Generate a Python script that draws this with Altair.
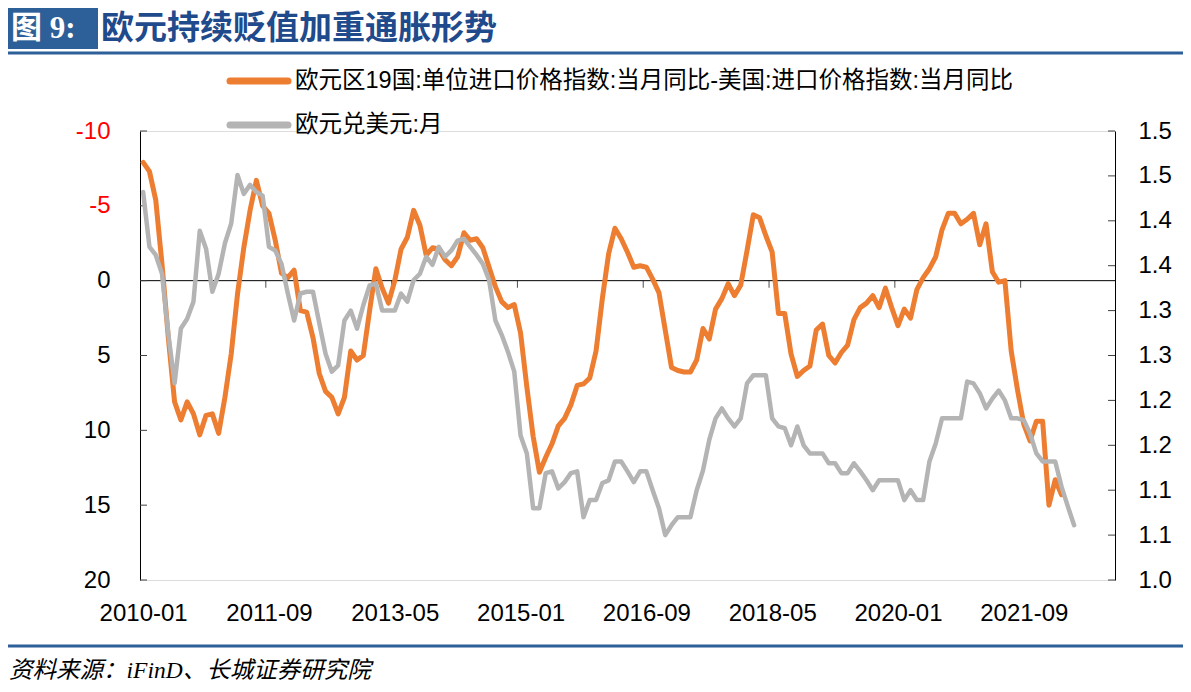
import altair as alt
import pandas as pd

# ---------------- data ----------------
months = pd.date_range("2010-01-01", periods=155, freq="MS").strftime("%Y-%m").tolist()

# 欧元区19国单位进口价格指数同比 - 美国进口价格指数同比 (left axis, reversed)
import_gap = [
    -7.9, -7.3, -5.4, -1.1, 3.8, 8.1, 9.3, 8.1, 8.9, 10.3,
    9.0, 8.9, 10.2, 7.8, 4.9, 0.9, -2.2, -4.7, -6.7, -5.0,
    -4.5, -2.7, -0.5, -0.2, -0.7, 2.0, 2.1, 3.8, 6.2, 7.4,
    7.8, 8.9, 7.8, 4.7, 5.3, 5.0, 2.0, -0.8, 0.5, 1.5,
    0.0, -2.1, -2.9, -4.7, -3.7, -1.7, -2.2, -2.1, -1.4, -1.0,
    -1.6, -3.2, -2.7, -2.8, -2.2, -0.9, 0.4, 1.4, 1.8, 1.6,
    3.5, 7.1, 10.4, 12.8, 11.8, 10.9, 9.7, 9.2, 8.3, 7.0,
    6.9, 6.5, 4.7, 1.2, -1.8, -3.5, -2.8, -1.9, -0.9, -1.0,
    -0.9, -0.1, 0.8, 3.3, 5.8, 6.0, 6.1, 6.1, 5.3, 3.2,
    3.9, 1.9, 1.2, 0.2, 1.0, 0.3, -2.0, -4.4, -4.2, -3.0,
    -1.9, 2.2, 2.2, 4.9, 6.4, 6.0, 5.7, 3.3, 2.9, 5.0,
    5.5, 4.8, 4.3, 2.6, 1.8, 1.5, 1.0, 1.8, 0.5, 1.8,
    3.0, 1.9, 2.5, 0.6, -0.2, -0.8, -1.6, -3.4, -4.5, -4.5,
    -3.8, -4.1, -4.5, -2.4, -3.8, -0.6, 0.1, 0.0, 4.7, 7.3,
    9.6, 10.7, 9.4, 9.4, 15.0, 13.3, 14.3,
]

# 欧元兑美元:月 (right axis)
eurusd = [
    1.432, 1.371, 1.362, 1.341, 1.274, 1.219, 1.280, 1.291, 1.310, 1.389,
    1.369, 1.321, 1.341, 1.375, 1.397, 1.451, 1.430, 1.440, 1.432, 1.428,
    1.371, 1.367, 1.352, 1.319, 1.289, 1.319, 1.321, 1.321, 1.286, 1.252,
    1.232, 1.239, 1.289, 1.300, 1.280, 1.306, 1.328, 1.330, 1.300, 1.300,
    1.300, 1.319, 1.310, 1.334, 1.341, 1.360, 1.351, 1.371, 1.360, 1.367,
    1.378, 1.380, 1.371, 1.362, 1.352, 1.334, 1.289, 1.273, 1.254, 1.232,
    1.161, 1.141, 1.080, 1.080, 1.119, 1.121, 1.102, 1.109, 1.119, 1.121,
    1.070, 1.089, 1.089, 1.108, 1.111, 1.132, 1.132, 1.121, 1.109, 1.121,
    1.121, 1.100, 1.080, 1.050, 1.061, 1.070, 1.070, 1.070, 1.100, 1.122,
    1.156, 1.180, 1.191, 1.180, 1.171, 1.180, 1.219, 1.228, 1.228, 1.228,
    1.180, 1.171, 1.169, 1.150, 1.171, 1.150, 1.141, 1.141, 1.141, 1.130,
    1.130, 1.119, 1.119, 1.130, 1.121, 1.111, 1.100, 1.111, 1.111, 1.111,
    1.111, 1.089, 1.100, 1.089, 1.089, 1.132, 1.152, 1.180, 1.180, 1.180,
    1.180, 1.221, 1.219, 1.208, 1.191, 1.202, 1.211, 1.200, 1.180, 1.180,
    1.178, 1.163, 1.141, 1.132, 1.132, 1.132, 1.104, 1.082, 1.061,
]

left_ticks = [-10, -5, 0, 5, 10, 15, 20]
right_ticks = [1.0, 1.05, 1.1, 1.15, 1.2, 1.25, 1.3, 1.35, 1.4, 1.45, 1.5]
x_label_idx = [0, 20, 40, 60, 80, 100, 120, 140]
x_bound_idx = [19.5, 39.5, 59.5, 79.5, 99.5, 119.5, 139.5]

series_names = [
    "欧元区19国:单位进口价格指数:当月同比-美国:进口价格指数:当月同比",
    "欧元兑美元:月",
]
series_colors = ["#ED7D31", "#B4B4B4"]

title_tag = "图 9:"
title_text = "欧元持续贬值加重通胀形势"
source_text = "资料来源：iFinD、长城证券研究院"

# ---------------- frames ----------------
df_o = pd.DataFrame({"i": list(range(len(import_gap))), "month": months[:len(import_gap)], "v": import_gap})
df_g = pd.DataFrame({"i": list(range(len(eurusd))), "month": months[:len(eurusd)], "v": eurusd})
df_lt = pd.DataFrame({"t": left_ticks})
df_rt = pd.DataFrame({"t": right_ticks})
df_zero = pd.DataFrame({"z": [0]})
df_bound = pd.DataFrame({"b": x_bound_idx, "z": [0] * len(x_bound_idx)})
one = pd.DataFrame({"a": [0]})

W, H = 975, 449
BLUE = "#2D5F99"
LABEL_FONT = "Liberation Sans"
CJK = "Liberation Sans, Noto Sans CJK SC"

xscale = alt.Scale(domain=[-0.5, 154.5], nice=False, zero=False)
xaxis = alt.Axis(
    values=x_label_idx,
    labelExpr="toString(2010 + floor(datum.value / 12)) + '-' + (datum.value % 12 < 9 ? '0' : '') + toString(datum.value % 12 + 1)",
    title=None, domain=False, ticks=False, grid=False,
    labelFont=LABEL_FONT, labelFontSize=24, labelColor="#000000",
    labelPadding=21, labelAngle=0, labelOverlap=False, labelFlush=False,
)
X = alt.X("i:Q", scale=xscale, axis=xaxis)

yl_scale = alt.Scale(domain=[-10, 20], reverse=True, nice=False, zero=False)
yl_axis = alt.Axis(
    orient="left", values=left_ticks, title=None, grid=False, ticks=False,
    domain=True, domainColor="#000000", domainWidth=1,
    labelFont=LABEL_FONT, labelFontSize=24, labelPadding=30,
    labelExpr="toString(datum.value)",
    labelColor={"expr": "datum.value < 0 ? '#FF0000' : '#000000'"},
    labelOverlap=False, labelFlush=False,
)
yr_scale = alt.Scale(domain=[1.0, 1.5], nice=False, zero=False)
yr_axis = alt.Axis(
    orient="right", values=right_ticks, title=None, grid=False, ticks=False,
    domain=True, domainColor="#000000", domainWidth=1,
    labelFont=LABEL_FONT, labelFontSize=24, labelPadding=23, labelColor="#000000",
    labelExpr="format(datum.value + 0.000001, '.1f')",
    labelOverlap=False, labelFlush=False,
)

# ---------------- left group ----------------
zero_line = alt.Chart(df_zero).mark_rule(color="#000000", strokeWidth=1).encode(
    y=alt.Y("z:Q", scale=yl_scale, axis=yl_axis)
)
zero_ticks = alt.Chart(df_bound).mark_tick(
    orient="vertical", size=7, thickness=1, yOffset=3.5, color="#000000"
).encode(
    x=alt.X("b:Q", scale=xscale, axis=xaxis),
    y=alt.Y("z:Q", scale=yl_scale, axis=yl_axis),
)
left_tick_marks = alt.Chart(df_lt).mark_rule(color="#404040", strokeWidth=1).encode(
    x=alt.value(0), x2=alt.value(7),
    y=alt.Y("t:Q", scale=yl_scale, axis=yl_axis),
)
orange = alt.Chart(df_o).mark_line(
    color=series_colors[0], strokeWidth=5, strokeJoin="round", strokeCap="round"
).encode(
    x=X,
    y=alt.Y("v:Q", scale=yl_scale, axis=yl_axis),
    tooltip=["month:N", "v:Q"],
)
left_group = alt.layer(zero_line, zero_ticks, left_tick_marks, orange)

# ---------------- right group ----------------
right_tick_marks = alt.Chart(df_rt).mark_rule(color="#404040", strokeWidth=1).encode(
    x=alt.value(W - 7), x2=alt.value(W),
    y=alt.Y("t:Q", scale=yr_scale, axis=yr_axis),
)
gray = alt.Chart(df_g).mark_line(
    color=series_colors[1], strokeWidth=4.5, strokeJoin="round", strokeCap="round"
).encode(
    x=X,
    y=alt.Y("v:Q", scale=yr_scale, axis=yr_axis),
    tooltip=["month:N", "v:Q"],
)
right_group = alt.layer(right_tick_marks, gray)

# ---------------- decorations: title, rules, legend, source ----------------
deco = []
deco.append(alt.Chart(one).mark_rect(color=BLUE).encode(
    x=alt.value(-132), x2=alt.value(-42), y=alt.value(-123), y2=alt.value(-82)))
deco.append(alt.Chart(one).mark_text(
    text=title_tag, color="#FFFFFF", font="Liberation Serif, Noto Sans CJK SC",
    fontSize=31, fontWeight="bold", align="left", baseline="middle").encode(
    x=alt.value(-129), y=alt.value(-102)))
deco.append(alt.Chart(one).mark_text(
    text=title_text, color="#1F4A8C", font="Noto Sans CJK SC",
    fontSize=33, fontWeight="bold", align="left", baseline="middle").encode(
    x=alt.value(-39), y=alt.value(-102)))
deco.append(alt.Chart(one).mark_rule(color=BLUE, strokeWidth=3).encode(
    x=alt.value(-132), x2=alt.value(1043), y=alt.value(-78)))
deco.append(alt.Chart(one).mark_rule(color=BLUE, strokeWidth=3).encode(
    x=alt.value(-132), x2=alt.value(1043), y=alt.value(515)))
deco.append(alt.Chart(one).mark_text(
    text=source_text, color="#000000", font="Liberation Serif, Noto Sans CJK SC",
    fontSize=23.5, fontStyle="italic", align="left", baseline="middle").encode(
    x=alt.value(-131), y=alt.value(540)))

for k, (name, col) in enumerate(zip(series_names, series_colors)):
    yy = -50 + 44 * k
    deco.append(alt.Chart(one).mark_rule(color=col, strokeWidth=7, strokeCap="round").encode(
        x=alt.value(90), x2=alt.value(148), y=alt.value(yy)))
    deco.append(alt.Chart(one).mark_text(
        text=name, color="#000000", font=CJK, fontSize=23.5,
        align="left", baseline="middle").encode(
        x=alt.value(155), y=alt.value(yy)))

chart = alt.layer(left_group, right_group, *deco).resolve_scale(
    y="independent"
).properties(
    width=W, height=H,
    autosize=alt.AutoSizeParams(type="none"),
    padding={"left": 132, "top": 123, "right": 68, "bottom": 104},
).configure_view(stroke=None).configure(background="#FFFFFF")

chart.save("out.html", embed_options={"renderer": "svg", "actions": False})
